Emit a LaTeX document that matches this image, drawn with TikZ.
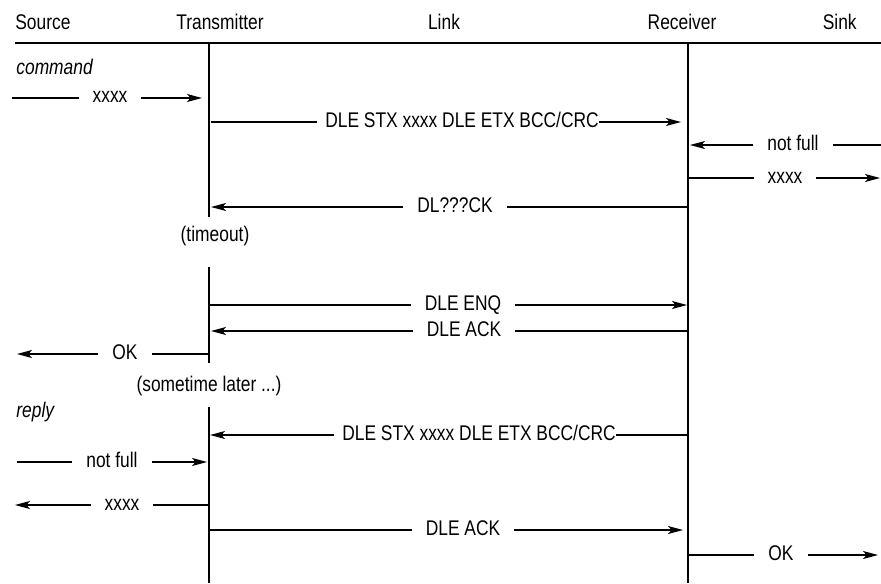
\documentclass[tikz,border=0pt]{standalone}
\usepackage{fontspec}
\setmainfont{Liberation Sans}[FakeStretch=0.82]
\usetikzlibrary{arrows.meta}

\begin{document}
\begin{tikzpicture}[x=0.5pt, y=-0.5pt,
        font=\fontsize{10.6}{12}\selectfont,
        life/.style={line width=0.55pt},
        msg/.style={line width=0.55pt, -{Stealth[length=7.5pt, width=4pt, inset=1.8pt]}},
        lbl/.style={inner xsep=7pt, inner ysep=0pt, outer sep=0pt, text height=7pt, text depth=2pt},
        tightlbl/.style={lbl, inner xsep=4pt},
        head/.style={anchor=base, inner sep=0pt},
        phase/.style={anchor=base west, inner sep=0pt, font=\fontsize{10.6}{12}\selectfont\itshape}]
    \useasboundingbox (0,0) rectangle (881,583);

    % headings
    \node[head, anchor=base west] (source) at (15,30) {Source};
    \node[head] (transmitter) at (220,30) {Transmitter};
    \node[head] (link) at (444,30) {Link};
    \node[head] (receiver) at (682,30) {Receiver};
    \node[head, anchor=base east] (sink) at (857,30) {Sink};
    \coordinate (ruleL) at (15,43);
    \coordinate (ruleR) at (881,43);
    \draw[life] (ruleL) -- (ruleR);

    % lifelines
    \coordinate (txA) at (209,43);
    \coordinate (txB) at (209,217);
    \coordinate (txC) at (209,267);
    \coordinate (txD) at (209,363);
    \coordinate (txE) at (209,407);
    \coordinate (txF) at (209,583);
    \coordinate (rxA) at (688,43);
    \coordinate (rxB) at (688,583);
    \draw[life] (txA) -- (txB);
    \draw[life] (txC) -- (txD);
    \draw[life] (txE) -- (txF);
    \draw[life] (rxA) -- (rxB);

    % command
    \node[phase] (command) at (16,75) {command};

    \coordinate (cmdS) at (12,98);
    \node[lbl] (cmd) at (110,98) {xxxx};
    \coordinate (cmdE) at (202,98);
    \draw[msg] (cmdS) -- (cmd) -- (cmdE);

    \coordinate (frameS) at (211,122);
    \node[tightlbl] (frame) at (458,122) {DLE STX xxxx DLE ETX BCC/CRC\kern-4pt};
    \coordinate (frameE) at (681,122);
    \draw[msg] (frameS) -- (frame) -- (frameE);

    \coordinate (nfullS) at (881,145);
    \node[lbl] (nfull) at (793,145) {not full};
    \coordinate (nfullE) at (690,145);
    \draw[msg] (nfullS) -- (nfull) -- (nfullE);

    \coordinate (dataS) at (688,178);
    \node[lbl] (data) at (785,178) {xxxx};
    \coordinate (dataE) at (880,178);
    \draw[msg] (dataS) -- (data) -- (dataE);

    \coordinate (lostS) at (688,207);
    \node[lbl] (lost) at (455,207) {DL???CK};
    \coordinate (lostE) at (211,207);
    \draw[msg] (lostS) -- (lost) -- (lostE);

    \node (timeout) at (215,236) {(timeout)};

    \coordinate (enqS) at (209,305);
    \node[lbl] (enq) at (463,305) {DLE ENQ};
    \coordinate (enqE) at (687,305);
    \draw[msg] (enqS) -- (enq) -- (enqE);

    \coordinate (ackS) at (688,331);
    \node[lbl] (ack) at (464,331) {DLE ACK};
    \coordinate (ackE) at (211,331);
    \draw[msg] (ackS) -- (ack) -- (ackE);

    \coordinate (okS) at (209,354);
    \node[lbl] (ok) at (125,354) {OK};
    \coordinate (okE) at (17,354);
    \draw[msg] (okS) -- (ok) -- (okE);

    \node (later) at (209,386) {(sometime later ...)};

    % reply
    \node[phase] (reply) at (16,417) {reply};

    \coordinate (rframeS) at (688,435);
    \node[tightlbl] (rframe) at (475,435) {DLE STX xxxx DLE ETX BCC/CRC\kern-4pt};
    \coordinate (rframeE) at (210,435);
    \draw[msg] (rframeS) -- (rframe) -- (rframeE);

    \coordinate (rnfullS) at (17,462);
    \node[lbl] (rnfull) at (112,462) {not full};
    \coordinate (rnfullE) at (207,462);
    \draw[msg] (rnfullS) -- (rnfull) -- (rnfullE);

    \coordinate (rdataS) at (209,505);
    \node[lbl] (rdata) at (122,505) {xxxx};
    \coordinate (rdataE) at (15,505);
    \draw[msg] (rdataS) -- (rdata) -- (rdataE);

    \coordinate (rackS) at (209,530);
    \node[lbl] (rack) at (463,530) {DLE ACK};
    \coordinate (rackE) at (683,530);
    \draw[msg] (rackS) -- (rack) -- (rackE);

    \coordinate (rokS) at (688,555);
    \node[lbl] (rok) at (781,555) {OK};
    \coordinate (rokE) at (878,555);
    \draw[msg] (rokS) -- (rok) -- (rokE);
\end{tikzpicture}
\end{document}
